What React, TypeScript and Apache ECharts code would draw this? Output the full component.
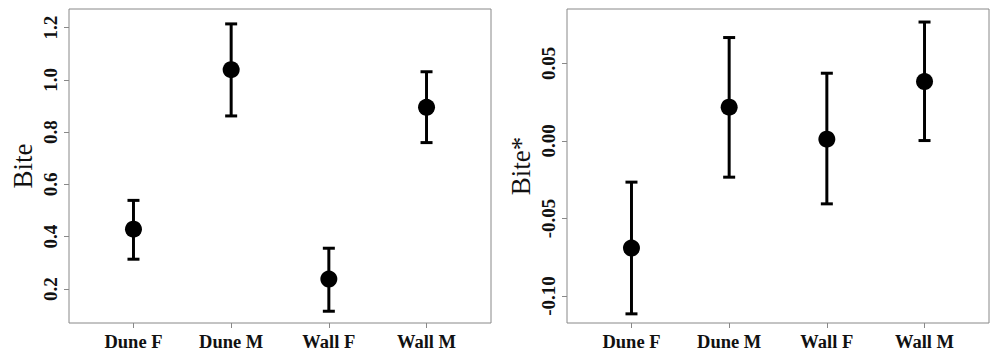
import React, { useEffect, useRef } from "react";
import * as echarts from "echarts";

const categories = ["Dune F", "Dune M", "Wall F", "Wall M"];
const catPos = [1, 2, 3, 4];

const biteMean = [0.429, 1.039, 0.238, 0.895];
const biteLower = [0.314, 0.862, 0.115, 0.76];
const biteUpper = [0.539, 1.214, 0.356, 1.031];
const biteTicks = [0.2, 0.4, 0.6, 0.8, 1.0, 1.2];

const biteStarMean = [-0.0691, 0.0217, 0.0011, 0.0382];
const biteStarLower = [-0.1115, -0.0234, -0.0406, 0.0002];
const biteStarUpper = [-0.0266, 0.0666, 0.0436, 0.0766];
const biteStarTicks = [-0.1, -0.05, 0.0, 0.05];

const FONT = "'Liberation Serif', 'DejaVu Serif', serif";

export default function App() {
  const ref = useRef<HTMLDivElement>(null);
  useEffect(() => {
    if (!ref.current) return;
    const chart = echarts.init(ref.current, undefined, { renderer: "svg" });

    const xAxisBase = (gridIndex: number) => ({
      type: "value",
      gridIndex,
      min: 0.34,
      max: 4.66,
      splitLine: { show: false },
      axisLine: { show: false, onZero: false },
      axisTick: {
        show: true,
        customValues: catPos,
        length: 5,
        lineStyle: { color: "#888", width: 1 },
      },
      axisLabel: {
        show: true,
        customValues: catPos,
        formatter: (v: number) => categories[Math.round(v) - 1] ?? "",
        fontFamily: FONT,
        fontWeight: "bold",
        fontSize: 18.5,
        color: "#111",
        margin: 9,
      },
    });

    const yAxisBase = (
      gridIndex: number,
      min: number,
      max: number,
      ticks: number[],
      digits: number,
      name: string
    ) => ({
      type: "value",
      gridIndex,
      min,
      max,
      name,
      nameLocation: "middle",
      nameGap: 33,
      nameTextStyle: { fontFamily: FONT, fontSize: 27, color: "#111" },
      splitLine: { show: false },
      axisLine: { show: false, onZero: false },
      axisTick: {
        show: true,
        customValues: ticks,
        length: 5,
        lineStyle: { color: "#888", width: 1 },
      },
      axisLabel: {
        show: true,
        customValues: ticks,
        rotate: 90,
        formatter: (v: number) => v.toFixed(digits),
        fontFamily: FONT,
        fontWeight: "bold",
        fontSize: 19,
        color: "#111",
        margin: 9,
      },
    });

    const errSeries = (idx: number, lower: number[], upper: number[]) => ({
      type: "custom",
      xAxisIndex: idx,
      yAxisIndex: idx,
      data: catPos.map((p, i) => [p, lower[i], upper[i]]),
      renderItem: (params: any, api: any) => {
        const x = api.value(0);
        const lo = api.coord([x, api.value(1)]);
        const hi = api.coord([x, api.value(2)]);
        const hw = 6;
        const style = { stroke: "#000", lineWidth: 3 };
        return {
          type: "group",
          children: [
            { type: "line", shape: { x1: lo[0], y1: lo[1], x2: hi[0], y2: hi[1] }, style },
            { type: "line", shape: { x1: lo[0] - hw, y1: lo[1], x2: lo[0] + hw, y2: lo[1] }, style },
            { type: "line", shape: { x1: hi[0] - hw, y1: hi[1], x2: hi[0] + hw, y2: hi[1] }, style },
          ],
        };
      },
      z: 2,
    });

    const pointSeries = (idx: number, mean: number[]) => ({
      type: "scatter",
      xAxisIndex: idx,
      yAxisIndex: idx,
      data: catPos.map((p, i) => [p, mean[i]]),
      symbol: "circle",
      symbolSize: 17,
      itemStyle: { color: "#000", opacity: 1 },
      z: 3,
    });

    chart.setOption({
      animation: false,
      backgroundColor: "#fff",
      grid: [
        { left: 69, top: 9, width: 422, height: 314, show: true, borderColor: "#888", borderWidth: 1, backgroundColor: "transparent" },
        { left: 567, top: 9, width: 422, height: 314, show: true, borderColor: "#888", borderWidth: 1, backgroundColor: "transparent" },
      ],
      xAxis: [xAxisBase(0), xAxisBase(1)],
      yAxis: [
        yAxisBase(0, 0.07, 1.271, biteTicks, 1, "Bite"),
        yAxisBase(1, -0.1174, 0.085, biteStarTicks, 2, "Bite*"),
      ],
      series: [
        errSeries(0, biteLower, biteUpper),
        pointSeries(0, biteMean),
        errSeries(1, biteStarLower, biteStarUpper),
        pointSeries(1, biteStarMean),
      ],
    });
    return () => chart.dispose();
  }, []);

  return (
    <div
      ref={ref}
      style={{ position: "absolute", left: 0, top: 0, width: 990, height: 354, background: "#fff" }}
    />
  );
}
